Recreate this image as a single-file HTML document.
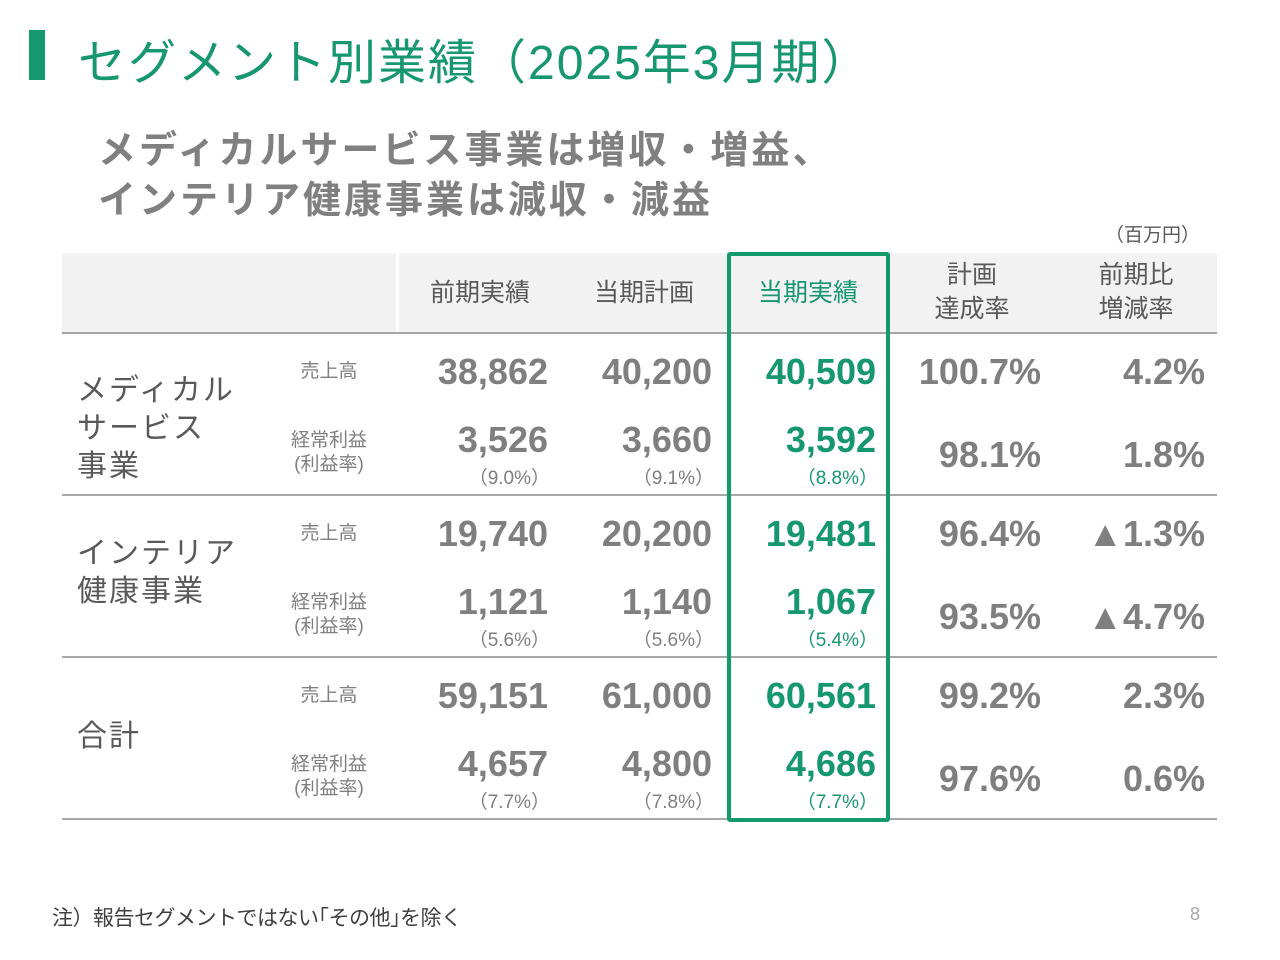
<!DOCTYPE html>
<html><head><meta charset="utf-8"><style>
body{margin:0;width:1280px;height:960px;background:#fff;position:relative;overflow:hidden;font-family:"Liberation Sans","Noto Sans CJK JP",sans-serif}
.a{position:absolute;white-space:nowrap}
.num{font-size:36px;font-weight:bold;color:#7f7f7f;text-align:right;width:160px}
.pct{font-size:19px;color:#7f7f7f;text-align:right;width:160px}
.g{color:#16976f}
.sub{font-size:19px;color:#808080;text-align:center;width:120px;line-height:24px}
.lbl{font-size:30px;color:#595959;line-height:38px;letter-spacing:2px}
.hd{font-size:25px;color:#595959;text-align:center;width:160px;line-height:34px}
.ln{position:absolute;left:62px;width:1155px;height:2px;background:#a6a6a6}
</style></head><body>
<div class="a" style="left:29px;top:30px;width:16px;height:50px;background:#13996d"></div>
<div class="a" style="left:78px;top:23px;font-size:48px;letter-spacing:2px;color:#16976f">セグメント別業績（2025年3月期）</div>
<div class="a" style="left:98px;top:126px;font-size:38px;font-weight:bold;color:#808080;line-height:50px;letter-spacing:3px">メディカルサービス事業は増収・増益、<br>インテリア健康事業は減収・減益</div>
<div class="a" style="left:1105px;top:220px;font-size:19px;color:#595959">（百万円）</div>
<div class="a" style="left:62px;top:253px;width:1155px;height:80px;background:#f2f2f2"></div>
<div class="a" style="left:396px;top:253px;width:3px;height:80px;background:#fff"></div>
<div class="ln" style="top:332px"></div>
<div class="ln" style="top:494px"></div>
<div class="ln" style="top:656px"></div>
<div class="ln" style="top:818px"></div>
<div class="a hd" style="left:400px;top:276px">前期実績</div>
<div class="a hd" style="left:564px;top:276px">当期計画</div>
<div class="a hd g" style="left:728px;top:276px;color:#16976f">当期実績</div>
<div class="a hd" style="left:892px;top:258px">計画<br>達成率</div>
<div class="a hd" style="left:1056px;top:258px">前期比<br>増減率</div>
<div class="a" style="left:727px;top:252px;width:155px;height:562px;border:4px solid #13996d;border-radius:3px"></div>
<div id="rows"></div>
<div class="a" style="left:52px;top:902px;font-size:21px;color:#404040;letter-spacing:-0.5px">注）報告セグメントではない｢その他｣を除く</div>
<div class="a" style="left:1190px;top:904px;font-size:18px;color:#a6a6a6">8</div>
<script>
const groups=["メディカル<br>サービス<br>事業","インテリア<br>健康事業","合計"];
const labelTops=[372,535,718];
const salesPrev=["38,862","19,740","59,151"];
const salesPlan=["40,200","20,200","61,000"];
const salesAct=["40,509","19,481","60,561"];
const salesAch=["100.7%","96.4%","99.2%"];
const salesYoy=["4.2%","▲1.3%","2.3%"];
const profPrev=["3,526","1,121","4,657"];
const profPlan=["3,660","1,140","4,800"];
const profAct=["3,592","1,067","4,686"];
const profAch=["98.1%","93.5%","97.6%"];
const profYoy=["1.8%","▲4.7%","0.6%"];
const mPrev=["（9.0%）","（5.6%）","（7.7%）"];
const mPlan=["（9.1%）","（5.6%）","（7.8%）"];
const mAct=["（8.8%）","（5.4%）","（7.7%）"];
const root=document.getElementById('rows');
function add(cls,left,top,html,name){const d=document.createElement('div');d.className='a '+cls;d.style.left=left+'px';d.style.top=top+'px';d.innerHTML=html;


root.appendChild(d);}
const cols=[388,552,716,880,1044];
groups.forEach((g,i)=>{const y=333+i*162;
add('lbl',77,labelTops[i],g,'segment-label');
add('sub',269,y+27,'売上高','sales-label');
add('sub',269,y+96,'経常利益<br>(利益率)','profit-label');
const sv=[salesPrev[i],salesPlan[i],salesAct[i],salesAch[i],salesYoy[i]];
const pv=[profPrev[i],profPlan[i],profAct[i],profAch[i],profYoy[i]];
const mv=[mPrev[i],mPlan[i],mAct[i]];
sv.forEach((v,j)=>add('num'+(j==2?' g':''),cols[j]+(j>2?1:0),y+18,v,'sales-value'));
pv.forEach((v,j)=>add('num'+(j==2?' g':''),cols[j]+(j>2?1:0),j>2?y+101:y+86,v,'profit-value'));
mv.forEach((v,j)=>add('pct'+(j==2?' g':''),cols[j]+2,y+130,v,'margin-value'));
});
</script>
</body></html>
